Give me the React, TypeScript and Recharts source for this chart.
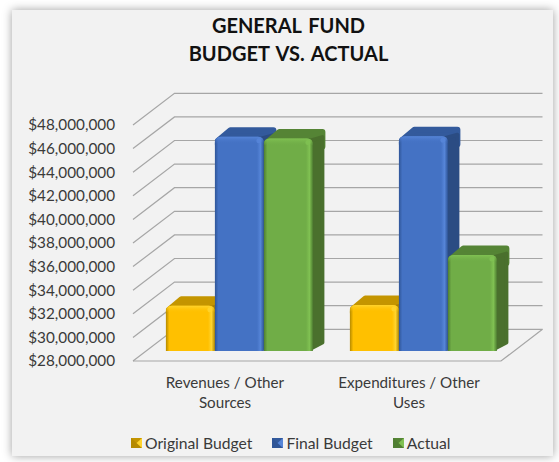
import { BarChart, Bar, XAxis, YAxis, CartesianGrid, Legend, Text } from "recharts"

const categories = ["Revenues / Other Sources", "Expenditures / Other Uses"]
const originalBudget = [31840000, 31900000]
const finalBudget = [46160000, 46200000]
const actual = [46000000, 36130000]
const yTicks = [
  28000000, 30000000, 32000000, 34000000, 36000000, 38000000, 40000000, 42000000, 44000000,
  46000000, 48000000,
]
const titleLines = ["GENERAL FUND", "BUDGET VS. ACTUAL"]

const chartData = categories.map((name, i) => ({
  name,
  original: originalBudget[i],
  final: finalBudget[i],
  actual: actual[i],
}))

const FONT = "Lato, 'Noto Sans', sans-serif"
const TEXT = "#3a3a3a"
const GRID = "#a6a6a6"

// depth of the 3D box the chart sits in
const WALL_DX = 41.5
const WALL_DY = 31.7
// bars stand part way into the box
const BAR_SHIFT_X = 14.5
const BAR_SHIFT_Y = 10
const BAR_DX = 12.5
const BAR_DY = 9.5

const shades: Record<string, { id: string; edge: string; light: string; top: string; side: string }> = {
  "#ffc000": { id: "yellow", edge: "#b58a00", light: "#ffd42e", top: "#c49500", side: "#a87f00" },
  "#4472c4": { id: "blue", edge: "#2f5597", light: "#5685d8", top: "#335a9c", side: "#2b4c83" },
  "#70ad47": { id: "green", edge: "#4f7e32", light: "#80c152", top: "#558435", side: "#4a702d" },
}

function Bar3D(props: any) {
  const { width, height, fill } = props
  const x = props.x + BAR_SHIFT_X
  const y = props.y - BAR_SHIFT_Y
  const s = shades[fill]
  const r = 6
  const b = y + height
  return (
    <g>
      <path
        d={`M${x + 3} ${y + 4}L${x + BAR_DX + 3} ${y - BAR_DY + 3}H${x + width + BAR_DX - 3}V${y + 8}H${x + 3}Z`}
        fill={s.top}
        stroke={s.top}
        strokeWidth={6}
        strokeLinejoin="round"
      />
      <path
        d={`M${x + width - 3} ${y + 2}L${x + width + BAR_DX - 3} ${y - BAR_DY + 8}V${b - BAR_DY + 1}L${x + width - 3} ${b - 2}Z`}
        fill={s.side}
        stroke={s.side}
        strokeWidth={4}
        strokeLinejoin="round"
      />
      <path
        d={`M${x} ${b}V${y + r}Q${x} ${y} ${x + r} ${y}H${x + width - r}Q${x + width} ${y} ${x + width} ${y + r}V${b}Z`}
        fill={`url(#face-${s.id})`}
      />
      <path
        d={`M${x} ${y + 7}V${y + r}Q${x} ${y} ${x + r} ${y}H${x + width - r}Q${x + width} ${y} ${x + width} ${y + r}V${y + 7}Z`}
        fill={`url(#bevel-${s.id})`}
      />
      <circle cx={x + width - 5} cy={y + 4} r={2.5} fill={s.light} opacity={0.9} />
    </g>
  )
}

// each gridline runs along the left wall, then across the back wall
function GridLine(props: any) {
  const { x1, x2, y1, index } = props
  const back = y1 - WALL_DY
  const isFloor = index === 0
  const d = `M${x1} ${y1}L${x1 + WALL_DX} ${back}H${x2 + WALL_DX}`
  return (
    <g fill="none" stroke={GRID} strokeWidth={1.2}>
      <path d={d} />
      {isFloor && <path d={`M${x1} ${y1}H${x2}L${x2 + WALL_DX} ${back}`} />}
    </g>
  )
}

function CategoryTick(props: any) {
  const { x, y, payload } = props
  return (
    <Text
      x={x}
      y={y + 8}
      width={160}
      textAnchor="middle"
      verticalAnchor="start"
      lineHeight={20}
      fontFamily={FONT}
      fontSize={15.2}
      fill={TEXT}
    >
      {payload.value}
    </Text>
  )
}

function LegendContent(props: any) {
  const items = props.payload || []
  return (
    <div style={{ display: "flex", paddingLeft: 131, gap: 20, fontFamily: FONT, fontSize: 15.7, color: TEXT }}>
      {items.map((item: any) => {
        const s = shades[item.color]
        return (
          <div key={item.value} style={{ display: "flex", alignItems: "center", gap: 3 }}>
            <svg width={11} height={10}>
              <rect width={11} height={10} fill={s.edge} />
              <path d="M0 0H11L5.5 5Z" fill={s.top} />
              <path d="M11 0V10L5.5 5Z" fill={s.light} />
            </svg>
            <span>{item.value}</span>
          </div>
        )
      })}
    </div>
  )
}

export default function App() {
  return (
    <div style={{ position: "absolute", left: 0, top: 0, width: 559, height: 462, background: "#fff", overflow: "hidden" }}>
      <div
        style={{
          position: "absolute",
          left: 12,
          top: 10,
          width: 541,
          height: 446,
          background: "#f2f2f2",
          boxShadow: "0 0 9px rgba(0,0,0,0.38)",
        }}
      />
      <div
        style={{
          position: "absolute",
          left: 18,
          width: 541,
          top: 11,
          textAlign: "center",
          fontFamily: FONT,
          fontWeight: 700,
          fontSize: 20,
          wordSpacing: 2,
          lineHeight: "28px",
          color: "#111",
        }}
      >
        {titleLines.map((line) => (
          <div key={line}>{line}</div>
        ))}
      </div>
      <BarChart
        width={559}
        height={462}
        data={chartData}
        margin={{ top: 125, right: 58, bottom: 61, left: 0 }}
        barGap={0}
        barCategoryGap="10%"
        style={{ position: "absolute", left: 0, top: 0 }}
      >
        <defs>
          {Object.entries(shades).map(([color, s]) => (
            <linearGradient key={s.id} id={`face-${s.id}`} x1="0" y1="0" x2="1" y2="0">
              <stop offset="0" stopColor={s.edge} />
              <stop offset="0.07" stopColor={color} />
              <stop offset="0.86" stopColor={color} />
              <stop offset="0.93" stopColor={s.light} />
              <stop offset="1" stopColor={s.edge} />
            </linearGradient>
          ))}
          {Object.entries(shades).map(([color, s]) => (
            <linearGradient key={s.id} id={`bevel-${s.id}`} x1="0" y1="0" x2="0" y2="1">
              <stop offset="0" stopColor={s.light} />
              <stop offset="1" stopColor={color} stopOpacity={0} />
            </linearGradient>
          ))}
        </defs>
        <CartesianGrid horizontal={GridLine} vertical={false} horizontalValues={yTicks} />
        <XAxis dataKey="name" axisLine={false} tickLine={false} height={40} tick={CategoryTick} interval={0} />
        <YAxis
          domain={[28000000, 48000000]}
          ticks={yTicks}
          interval={0}
          width={133}
          axisLine={false}
          tickLine={false}
          tickMargin={12}
          tickFormatter={(v: number) => "$" + v.toLocaleString("en-US")}
          tick={{ fontFamily: FONT, fontSize: 15.3, fill: TEXT }}
        />
        <Legend
          layout="horizontal"
          verticalAlign="middle"
          align="center"
          itemSorter={null}
          content={LegendContent}
          wrapperStyle={{ left: 0, top: 434, width: 559 }}
        />
        <Bar dataKey="original" name="Original Budget" fill="#ffc000" shape={Bar3D} isAnimationActive={false} />
        <Bar dataKey="final" name="Final Budget" fill="#4472c4" shape={Bar3D} isAnimationActive={false} />
        <Bar dataKey="actual" name="Actual" fill="#70ad47" shape={Bar3D} isAnimationActive={false} />
      </BarChart>
    </div>
  )
}
